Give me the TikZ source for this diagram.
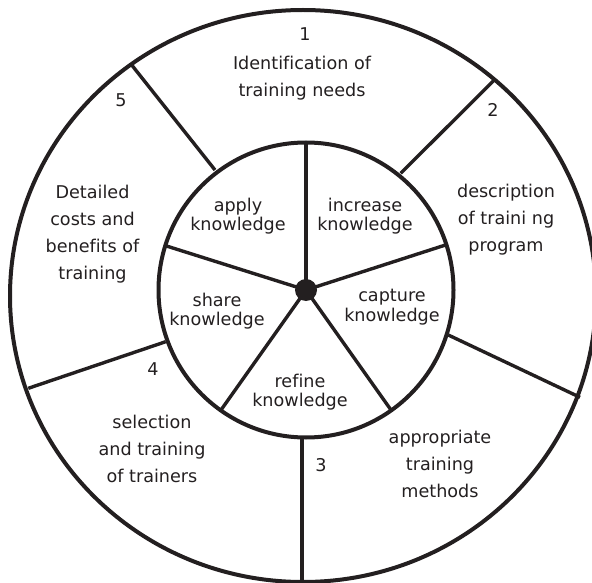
\documentclass[tikz,border=0pt]{standalone}
\usepackage{fontspec}
\setmainfont{DejaVu Sans}[Ligatures=NoCommon]
\definecolor{ink}{HTML}{231F20}
\begin{document}
\begin{tikzpicture}[x=1pt,y=-1pt,line join=round,
  wheel/.style={draw=ink,line width=4pt},
  spoke/.style={draw=ink,line width=3.4pt},
  outertxt/.style={text=ink,font=\fontsize{17.6}{27}\selectfont,align=center,inner sep=0pt},
  innertxt/.style={text=ink,font=\fontsize{17.6}{19.5}\selectfont,align=center,inner sep=0pt},
  numtxt/.style={text=ink,font=\fontsize{17.6}{20}\selectfont,inner sep=0pt}]
\useasboundingbox (0,0) rectangle (592,583);
% centres
\coordinate (C) at (306,290);
\coordinate (O) at (303,296);
% inner spoke ends
\coordinate (i1) at (306,142);
\coordinate (i2) at (445.5,245);
\coordinate (i3) at (391,410);
\coordinate (i4) at (221,410);
\coordinate (i5) at (166.5,246);
% outer spoke ends
\coordinate (a1) at (215,170);   \coordinate (b1) at (131.7,65);
\coordinate (a2) at (400.7,173.3); \coordinate (b2) at (495,79.3);
\coordinate (a3) at (448.3,335); \coordinate (b3) at (580,397.3);
\coordinate (a4) at (302,437);   \coordinate (b4) at (302,584);
\coordinate (a5) at (165.7,341.7); \coordinate (b5) at (28.3,388.3);
% spokes
\foreach \k in {1,...,5} {
  \draw[spoke] (C) -- (i\k);
  \draw[spoke] (a\k) -- (b\k);
}
% circles
\draw[wheel] (O) ellipse [x radius=293,y radius=286];
\draw[wheel] (C) circle [radius=147.5];
\fill[ink] (C) circle [radius=11];
% numbers
\node[numtxt] (n1) at (305,34) {1};
\node[numtxt] (n2) at (493,110) {2};
\node[numtxt] (n3) at (321,465) {3};
\node[numtxt] (n4) at (153,369) {4};
\node[numtxt] (n5) at (121,100) {5};
% outer texts
\node[outertxt] (t1) at (302,78) {Identification of\\training needs};
\node[outertxt] (t2) at (506,220) {description\\of traini ng\\program};
\node[outertxt] (t3) at (440,464) {appropriate\\training\\methods};
\node[outertxt] (t4) at (152,448.5) {selection\\and training\\of trainers};
\node[outertxt] (t5) at (92.5,234) {Detailed\\costs and\\benefits of\\training};
% inner texts
\node[innertxt] (k1) at (238,216) {apply\\knowledge};
\node[innertxt] (k2) at (365,216) {increase\\knowledge};
\node[innertxt] (k3) at (392,307) {capture\\knowledge};
\node[innertxt] (k4) at (300,392) {refine\\knowledge};
\node[innertxt] (k5) at (217,311) {share\\knowledge};
\end{tikzpicture}
\end{document}
